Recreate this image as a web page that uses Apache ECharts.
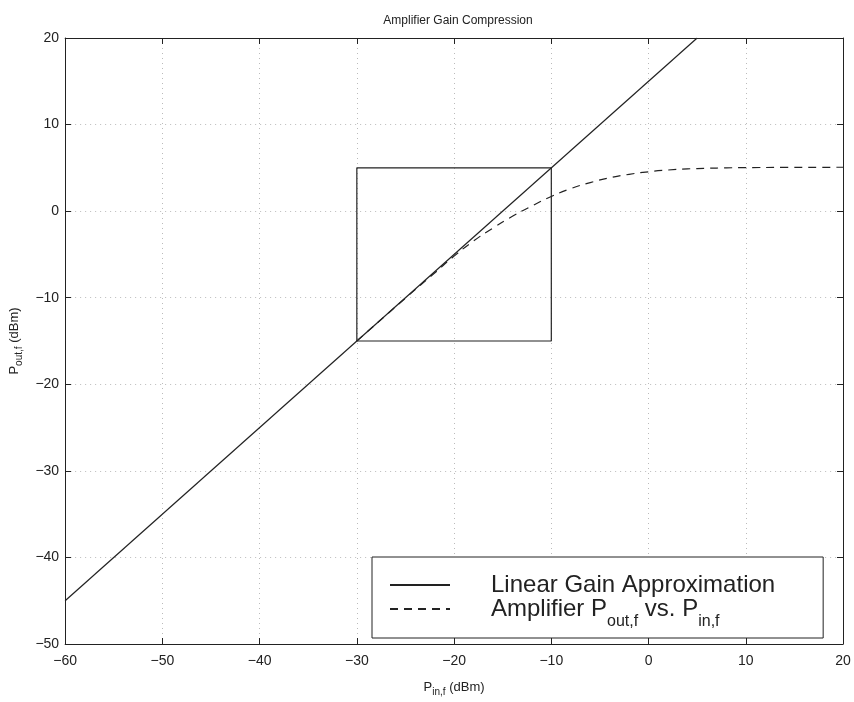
<!DOCTYPE html>
<html>
<head>
<meta charset="utf-8">
<script src="https://cdn.jsdelivr.net/npm/echarts@6/dist/echarts.min.js"></script>
<style>
  html, body { margin: 0; padding: 0; background: #fff; }
  #chart { width: 854px; height: 702px; }
</style>
</head>
<body>
<div id="chart"></div>
<script>
// Input power sweep (dBm) and the ideal linear-gain output (15 dB gain)
const linearPin = [-60, 5];
const linearPout = [-45, 20];

// Compressed output of the amplifier
const ampPin = [-30, -25, -22, -20, -18, -16, -14, -12, -10, -8, -6, -4, -2, 0, 2, 4, 6, 8, 10, 14, 20];
const ampPout = [-15, -10.05, -7.15, -5.2, -3.45, -1.95, -0.6, 0.6, 1.7, 2.6, 3.3, 3.85, 4.25, 4.55, 4.75, 4.88, 4.95, 5.0, 5.03, 5.05, 5.07];

// Compression window outline
const boxPin = [-30, -10, -10, -30, -30];
const boxPout = [-15, -15, 5, 5, -15];

const xTicks = { min: -60, max: 20, interval: 10 };
const yTicks = { min: -50, max: 20, interval: 10 };

const pairs = (xs, ys) => xs.map((x, i) => [x, ys[i]]);
const minus = (v) => String(v).replace('-', '\u2212');

const ink = '#222';
const font = 'Liberation Sans';

const tickAxis = (extra) => Object.assign({
  type: 'value',
  axisLine: { show: true, onZero: false, lineStyle: { color: ink, width: 1 } },
  axisTick: { show: true, inside: true, length: 6, lineStyle: { color: ink } },
  axisLabel: { show: false },
  splitLine: { show: false }
}, extra);

const chart = echarts.init(document.getElementById('chart'));
chart.setOption({
  animation: false,
  backgroundColor: '#fff',
  title: {
    text: 'Amplifier Gain Compression',
    left: 453, top: 10, textAlign: 'center',
    textStyle: { fontFamily: font, fontSize: 12, fontWeight: 'normal', color: ink }
  },
  grid: { left: 63, right: 11, top: 38, bottom: 52 },
  xAxis: [
    tickAxis(Object.assign({}, xTicks, {
      position: 'bottom',
      axisLabel: { show: true, margin: 10, fontFamily: font, fontSize: 14, color: ink, formatter: minus },
      splitLine: { show: true, lineStyle: { color: '#bbb', type: [1, 4], width: 1 } },
      name: 'P{sub|in,f} (dBm)',
      nameLocation: 'middle', nameGap: 33,
      nameTextStyle: {
        fontFamily: font, fontSize: 13, color: ink,
        rich: { sub: { fontFamily: font, fontSize: 10, color: ink, padding: [10, 0, 0, 0] } }
      }
    })),
    tickAxis(Object.assign({}, xTicks, { position: 'top' }))
  ],
  yAxis: [
    tickAxis(Object.assign({}, yTicks, {
      position: 'left',
      axisLabel: { show: true, margin: 6, fontFamily: font, fontSize: 14, color: ink, formatter: minus },
      splitLine: { show: true, lineStyle: { color: '#bbb', type: [1, 4], width: 1 } },
      name: 'P{sub|out,f} (dBm)',
      nameLocation: 'middle', nameGap: 37, nameRotate: 90,
      nameTextStyle: {
        fontFamily: font, fontSize: 13, color: ink,
        rich: { sub: { fontFamily: font, fontSize: 10, color: ink, padding: [10, 0, 0, 0] } }
      }
    })),
    tickAxis(Object.assign({}, yTicks, { position: 'right' }))
  ],
  legend: {
    orient: 'vertical',
    left: 372, top: 557,
    padding: [16, 48, 8, 17],
    itemGap: 0,
    itemWidth: 60, itemHeight: 14,
    backgroundColor: '#fff',
    borderColor: ink, borderWidth: 1,
    itemStyle: { opacity: 0 },
    data: ['Linear Gain Approximation', 'Amplifier Pout vs. Pin'],
    formatter: (name) => name === 'Amplifier Pout vs. Pin'
      ? '{t|Amplifier P}{sub|out,f}{t| vs. P}{sub|in,f}'
      : '{t|' + name + '}',
    textStyle: {
      padding: [0, 0, 0, 36],
      rich: {
        t: { fontFamily: font, fontSize: 24, color: ink, lineHeight: 20 },
        sub: { fontFamily: font, fontSize: 16, color: ink, padding: [26, 0, 0, 0] }
      }
    }
  },
  series: [
    {
      name: 'Linear Gain Approximation',
      type: 'line', symbol: 'none', z: 3,
      data: pairs(linearPin, linearPout),
      lineStyle: { color: ink, width: 1.2, type: 'solid' },
      itemStyle: { color: ink }
    },
    {
      name: 'Amplifier Pout vs. Pin',
      type: 'line', symbol: 'none', smooth: true, z: 2,
      data: pairs(ampPin, ampPout),
      lineStyle: { color: ink, width: 1.2, type: [8, 6] },
      itemStyle: { color: ink }
    },
    {
      name: 'window',
      type: 'line', symbol: 'none', z: 2,
      data: pairs(boxPin, boxPout),
      lineStyle: { color: ink, width: 1.2 },
      silent: true
    }
  ]
});
</script>
</body>
</html>
